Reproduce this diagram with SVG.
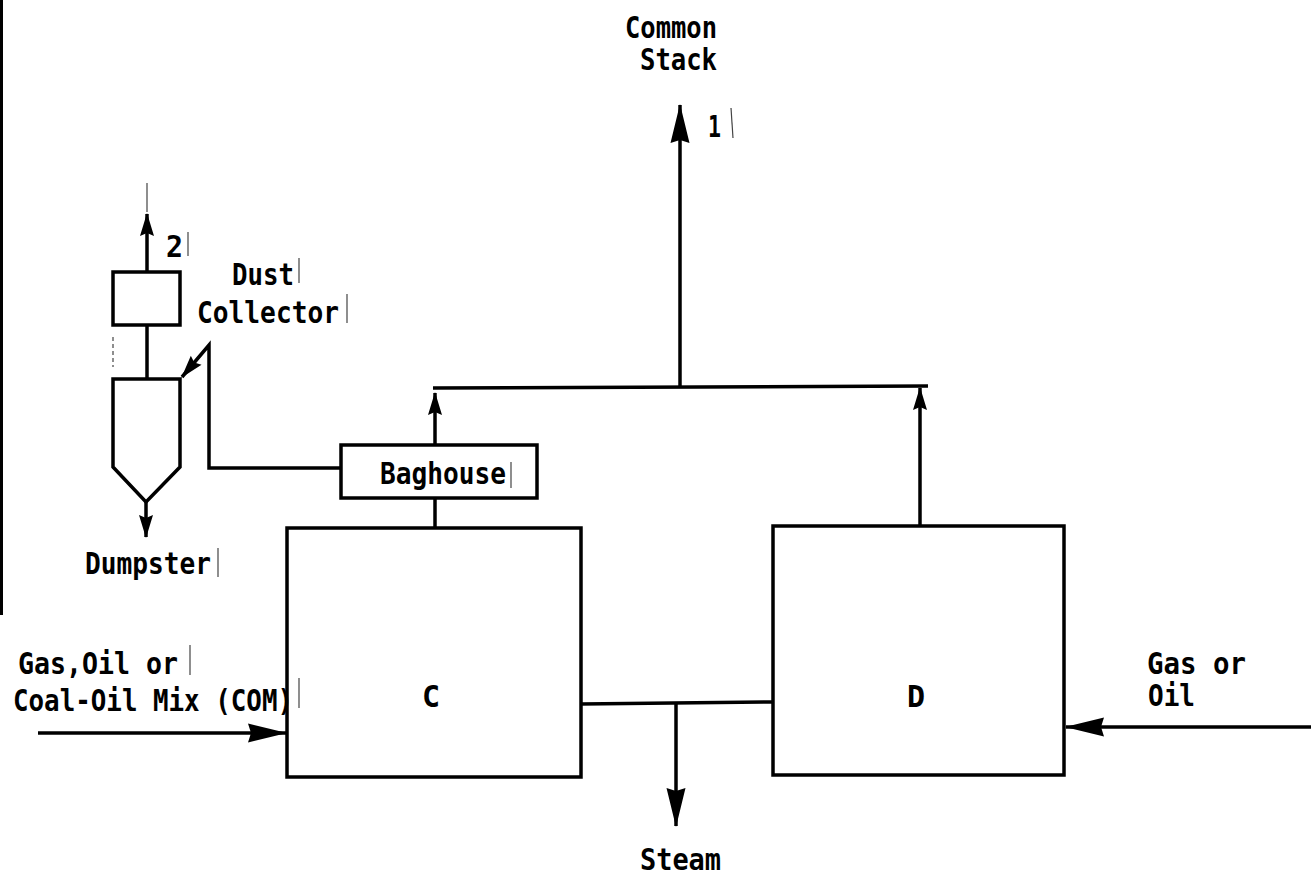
<svg xmlns="http://www.w3.org/2000/svg" width="1311" height="877" viewBox="0 0 1311 877">
<style>
.box{fill:none;stroke:#000;stroke-width:3.5}
.ln{fill:none;stroke:#000;stroke-width:3.5}
.t{font-family:"DejaVu Sans Mono","Liberation Mono",monospace;font-size:30px;font-weight:bold;fill:#000}
.tick{stroke:#444;stroke-width:1.2}
</style>
<defs>
<marker id="big" markerWidth="40" markerHeight="20" refX="0" refY="0" orient="auto" markerUnits="userSpaceOnUse" overflow="visible">
<path d="M1,0 L-38,-9.5 L-35,0 L-38,9.5 Z" fill="#000"/>
</marker>
<marker id="sm" markerWidth="24" markerHeight="16" refX="0" refY="0" orient="auto" markerUnits="userSpaceOnUse" overflow="visible">
<path d="M1,0 L-22,-7 L-19,0 L-22,7 Z" fill="#000"/>
</marker>
</defs>
<rect x="0" y="0" width="1311" height="877" fill="#fff"/>
<rect x="0" y="0" width="3" height="615" fill="#000"/>

<g id="connectors">
<path class="ln" d="M680,388 L680,105" marker-end="url(#big)"/>
<path class="ln" d="M433,388 L928,386"/>
<path class="ln" d="M435,445 L435,393" marker-end="url(#sm)"/>
<path class="ln" d="M920,526 L920,388" marker-end="url(#sm)"/>
<path class="ln" d="M435,528 L435,498"/>
<path class="ln" d="M581,704 L773,702"/>
<path class="ln" d="M676,704 L676,826" marker-end="url(#big)"/>
<path class="ln" d="M38,733 L286,733" marker-end="url(#big)"/>
<path class="ln" d="M1311,727 L1066,727" marker-end="url(#big)"/>
<path class="ln" d="M147,272 L147,214" marker-end="url(#sm)"/>
<path class="tick" d="M147,183 L147,212"/>
<path class="ln" d="M147,325 L147,379"/>
<path class="ln" d="M146,502 L146,537" marker-end="url(#sm)"/>
<path class="ln" d="M341,468 L209,468 L209,345 L182,377" marker-end="url(#sm)"/>
</g>

<g id="node-C">
<rect class="box" x="287" y="528" width="294" height="249"/>
<text class="t" x="431" y="707" text-anchor="middle">C</text>
</g>
<g id="node-D">
<rect class="box" x="773" y="526" width="291" height="249"/>
<text class="t" x="916" y="707" text-anchor="middle">D</text>
</g>
<g id="node-baghouse">
<rect class="box" x="341" y="445" width="196" height="53"/>
<text class="t" x="380" y="484" textLength="126" lengthAdjust="spacingAndGlyphs">Baghouse</text>
<path class="tick" d="M511,462 L511,488"/>
</g>
<g id="node-dust-collector">
<rect class="box" x="113" y="272" width="67" height="53"/>
<path class="box" d="M113,379 L180,379 L180,467 L146,502 L113,467 Z"/>
<path class="tick" d="M113,337 L113,367" stroke-dasharray="4,3"/>
<text class="t" x="232" y="285" textLength="62" lengthAdjust="spacingAndGlyphs">Dust</text>
<text class="t" x="197" y="323" textLength="142" lengthAdjust="spacingAndGlyphs">Collector</text>
<path class="tick" d="M299,258 L299,283"/>
<path class="tick" d="M347,294 L347,323"/>
</g>

<g id="labels">
<text class="t" x="625" y="38" textLength="92" lengthAdjust="spacingAndGlyphs">Common</text>
<text class="t" x="640" y="70" textLength="77" lengthAdjust="spacingAndGlyphs">Stack</text>
<text class="t" x="708" y="137" textLength="13" lengthAdjust="spacingAndGlyphs">1</text>
<path class="tick" d="M731,108 L733,138"/>
<text class="t" x="166" y="257" textLength="17" lengthAdjust="spacingAndGlyphs">2</text>
<path class="tick" d="M188,232 L188,256"/>
<text class="t" x="85" y="574" textLength="126" lengthAdjust="spacingAndGlyphs">Dumpster</text>
<path class="tick" d="M218,548 L218,577"/>
<text class="t" x="640" y="870" textLength="81" lengthAdjust="spacingAndGlyphs">Steam</text>
<text class="t" x="18" y="674" textLength="160" lengthAdjust="spacingAndGlyphs">Gas,Oil or</text>
<path class="tick" d="M190,645 L190,675"/>
<text class="t" x="13" y="711" textLength="280" lengthAdjust="spacingAndGlyphs">Coal-Oil Mix (COM)</text>
<path class="tick" d="M299,678 L299,708"/>
<text class="t" x="1147" y="674" textLength="99" lengthAdjust="spacingAndGlyphs">Gas or</text>
<text class="t" x="1148" y="706" textLength="47" lengthAdjust="spacingAndGlyphs">Oil</text>
</g>
</svg>
